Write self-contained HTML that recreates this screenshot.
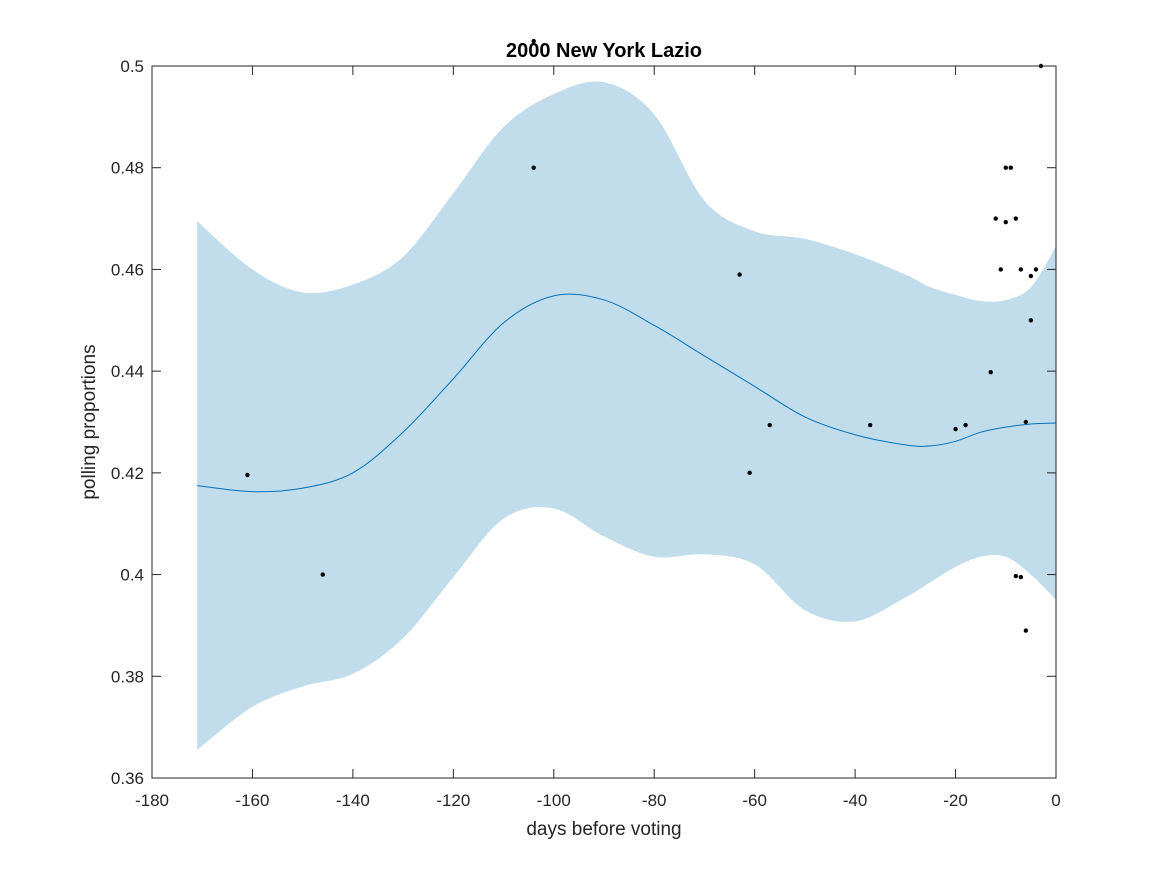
<!DOCTYPE html>
<html><head><meta charset="utf-8"><style>
body{margin:0;background:#fff;}
svg{display:block;font-family:"Liberation Sans",sans-serif;}
</style></head><body>
<svg id="chart" width="1167" height="875" viewBox="0 0 1167 875"></svg>
<script>
const xTicks=[-180,-160,-140,-120,-100,-80,-60,-40,-20,0];
const yTicks=[0.36,0.38,0.4,0.42,0.44,0.46,0.48,0.5];
const yTickLabels=["0.36","0.38","0.4","0.42","0.44","0.46","0.48","0.5"];
const curveX=[-171,-160,-150,-140,-130,-120,-110,-100,-90,-80,-70,-60,-50,-40,-30,-25,-20,-15,-10,-5,0];
const meanY=[0.4175,0.4163,0.417,0.42,0.428,0.4385,0.4495,0.4548,0.454,0.449,0.443,0.437,0.431,0.4275,0.4255,0.4253,0.4262,0.428,0.429,0.4296,0.4298];
const upperY=[0.4695,0.46,0.4555,0.457,0.4625,0.475,0.488,0.4945,0.4968,0.4905,0.4735,0.4675,0.466,0.463,0.459,0.4565,0.455,0.4538,0.454,0.4565,0.4645];
const lowerY=[0.3655,0.374,0.378,0.3805,0.3875,0.3995,0.411,0.413,0.4075,0.4035,0.404,0.402,0.393,0.3908,0.3955,0.3985,0.4015,0.4035,0.4035,0.4,0.395];
const pollX=[-161,-146,-104,-104,-63,-61,-57,-37,-20,-18,-13,-12,-11,-10,-10,-9,-8,-8,-7,-7,-6,-6,-5,-5,-4,-3];
const pollY=[0.4196,0.400,0.5049,0.48,0.459,0.42,0.4294,0.4294,0.4286,0.4294,0.4398,0.47,0.46,0.48,0.4693,0.48,0.47,0.3997,0.46,0.3995,0.43,0.389,0.45,0.4587,0.46,0.5];
const L=152,R=1056,T=66,B=778;
const sx=v=>L+(v+180)/180*(R-L);
const sy=v=>B-(v-0.36)/0.14*(B-T);
const NS="http://www.w3.org/2000/svg";
const svg=document.getElementById('chart');
function mk(t,a,p){const e=document.createElementNS(NS,t);for(const k in a)e.setAttribute(k,a[k]);(p||svg).appendChild(e);return e;}
function spline(pts){let d="M"+pts[0][0]+","+pts[0][1];for(let i=0;i<pts.length-1;i++){const p0=pts[Math.max(0,i-1)],p1=pts[i],p2=pts[i+1],p3=pts[Math.min(pts.length-1,i+2)];const c1=[p1[0]+(p2[0]-p0[0])/6,p1[1]+(p2[1]-p0[1])/6],c2=[p2[0]-(p3[0]-p1[0])/6,p2[1]-(p3[1]-p1[1])/6];d+=" C"+c1+" "+c2+" "+p2;}return d;}
const up=curveX.map((x,i)=>[sx(x),sy(upperY[i])]);
const lo=curveX.map((x,i)=>[sx(x),sy(lowerY[i])]).reverse();
const band=mk('path',{d:spline(up)+" L"+lo[0]+spline(lo).replace(/^M[^ ]+/,"")+" Z",fill:"#c1ddeb",stroke:"none"});


const mean=mk('path',{d:spline(curveX.map((x,i)=>[sx(x),sy(meanY[i])])),fill:"none",stroke:"#0072bd","stroke-width":1});


pollX.forEach((x,i)=>{const c=mk('circle',{cx:sx(x),cy:sy(pollY[i]),r:2.2,fill:"#000"});

});
const box=mk('rect',{x:L,y:T,width:R-L,height:B-T,fill:"none",stroke:"#262626","stroke-width":1});


xTicks.forEach(t=>{const x=sx(t);mk('line',{x1:x,x2:x,y1:B,y2:B-9,stroke:"#262626"});mk('line',{x1:x,x2:x,y1:T,y2:T+9,stroke:"#262626"});
const tx=mk('text',{x:x,y:B+28,"text-anchor":"middle","font-size":17,fill:"#262626"});tx.textContent=t;

});
yTicks.forEach((t,i)=>{const y=sy(t);mk('line',{x1:L,x2:L+9,y1:y,y2:y,stroke:"#262626"});mk('line',{x1:R,x2:R-9,y1:y,y2:y,stroke:"#262626"});
const tx=mk('text',{x:L-8,y:y+6,"text-anchor":"end","font-size":17,fill:"#262626"});tx.textContent=yTickLabels[i];

});
const title=mk('text',{x:604,y:57,"text-anchor":"middle","font-size":20,"font-weight":"bold",fill:"#000"});title.textContent="2000 New York Lazio";


const xl=mk('text',{x:604,y:835,"text-anchor":"middle","font-size":19,fill:"#262626"});xl.textContent="days before voting";


const yl=mk('text',{x:95,y:422,"text-anchor":"middle","font-size":19,fill:"#262626",transform:"rotate(-90 95 422)"});yl.textContent="polling proportions";


</script>
</body></html>
